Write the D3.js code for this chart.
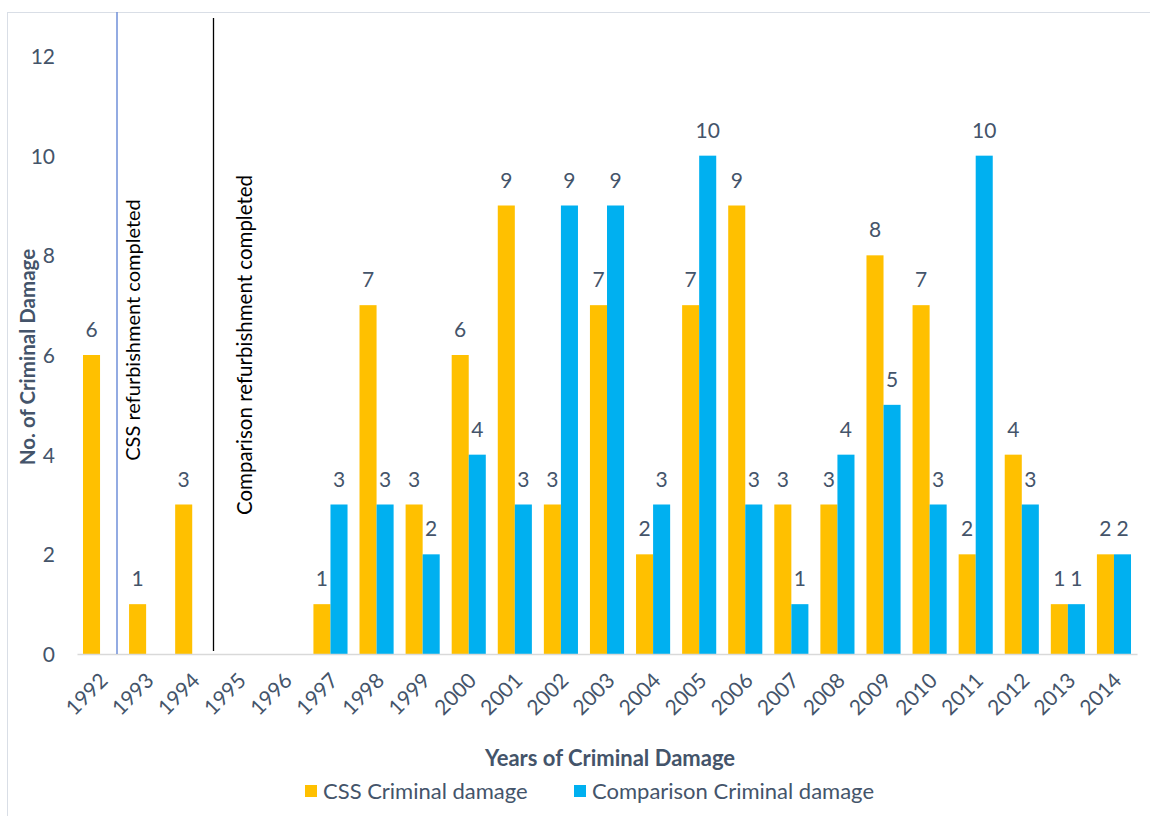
<!DOCTYPE html>
<html><head><meta charset="utf-8">
<script src="https://cdn.jsdelivr.net/npm/d3@7"></script>
<style>body{margin:0;background:#fff}svg{display:block;font-family:Lato,"Open Sans",sans-serif}</style>
</head><body><svg id="c" width="1150" height="816"></svg>
<script>
const years = ["1992","1993","1994","1995","1996","1997","1998","1999","2000","2001","2002","2003","2004","2005","2006","2007","2008","2009","2010","2011","2012","2013","2014"];
const cssValues = [6,1,3,null,null,1,7,3,6,9,3,7,2,7,9,3,3,8,7,2,4,1,2];
const comparisonValues = [null,null,null,null,null,3,3,2,4,3,9,9,3,10,3,1,4,5,3,10,3,1,2];
const yTicks = [0,2,4,6,8,10,12];
const seriesNames = ["CSS Criminal damage","Comparison Criminal damage"];
const colors = ["#FFC000","#00B0F0"];
const textColor = "#44546A";

const svg = d3.select("#c");
svg.append("rect").attr("x",7.5).attr("y",12.5).attr("width",1150).attr("height",820).attr("fill","none").attr("stroke","#D9DEE6");

const x = d3.scaleBand().domain(years).range([77,1137]).paddingInner(0.26).paddingOuter(0.13);
const xs = d3.scaleBand().domain([0,1]).range([0,x.bandwidth()]);
const y = d3.scaleLinear().domain([0,12]).range([654,56]);

// y tick labels
const yAxis = d3.axisLeft(y).tickValues(yTicks).tickSize(0).tickPadding(0);
const gy = svg.append("g").attr("transform","translate(55,0)").call(yAxis);
gy.select(".domain").remove();
gy.selectAll("text").attr("fill",textColor).attr("font-size",21).attr("font-family","Lato, sans-serif").attr("dy","0.36em");

// bars
const series = [cssValues, comparisonValues];
series.forEach((vals,si)=>{
  const g = svg.append("g");
  const data = years.map((yr,i)=>({yr,v:vals[i]})).filter(d=>d.v!=null);
  g.selectAll("rect").data(data).join("rect")
    .attr("x",d=>x(d.yr)+xs(si)).attr("width",xs.bandwidth())
    .attr("y",d=>y(d.v)).attr("height",d=>y(0)-y(d.v)).attr("fill",colors[si]);
  g.selectAll("text").data(data).join("text")
    .attr("x",d=>x(d.yr)+xs(si)+xs.bandwidth()/2).attr("y",d=>y(d.v)-18)
    .attr("text-anchor","middle").attr("fill",textColor).attr("font-size",21).text(d=>d.v);
});

// x axis
const xAxis = d3.axisBottom(x).tickSize(0).tickPadding(0);
const gx = svg.append("g").attr("transform","translate(0,654)").call(xAxis);
gx.select(".domain").attr("stroke","#D9D9D9").attr("stroke-width",1.5);
gx.selectAll("text").attr("fill",textColor).attr("font-size",21).attr("font-family","Lato, sans-serif")
  .attr("text-anchor","end").attr("dy",0).attr("transform","translate(9,28) rotate(-45)");

// reference lines
svg.append("line").attr("x1",117).attr("x2",117).attr("y1",12).attr("y2",654).attr("stroke","#6F8FD8").attr("stroke-width",1.5);
svg.append("line").attr("x1",213.5).attr("x2",213.5).attr("y1",18).attr("y2",651).attr("stroke","#000").attr("stroke-width",1.3);
svg.append("text").attr("transform","translate(140,330) rotate(-90)").attr("text-anchor","middle").attr("font-size",20).attr("fill","#000").text("CSS refurbishment completed");
svg.append("text").attr("transform","translate(252,345) rotate(-90)").attr("text-anchor","middle").attr("font-size",20.5).attr("fill","#000").text("Comparison refurbishment completed");

// axis titles
svg.append("text").attr("transform","translate(35,357) rotate(-90)").attr("text-anchor","middle").attr("font-size",20.5).attr("font-weight","bold").attr("fill",textColor).text("No. of Criminal Damage");
svg.append("text").attr("x",610).attr("y",766).attr("text-anchor","middle").attr("font-size",22).attr("font-weight","bold").attr("fill",textColor).text("Years of Criminal Damage");

// legend
const legX = [305,574];
seriesNames.forEach((n,i)=>{
  svg.append("rect").attr("x",legX[i]).attr("y",785).attr("width",12).attr("height",12).attr("fill",colors[i]);
  svg.append("text").attr("x",legX[i]+18).attr("y",799).attr("font-size",22).attr("fill",textColor).text(n);
});
</script></body></html>
